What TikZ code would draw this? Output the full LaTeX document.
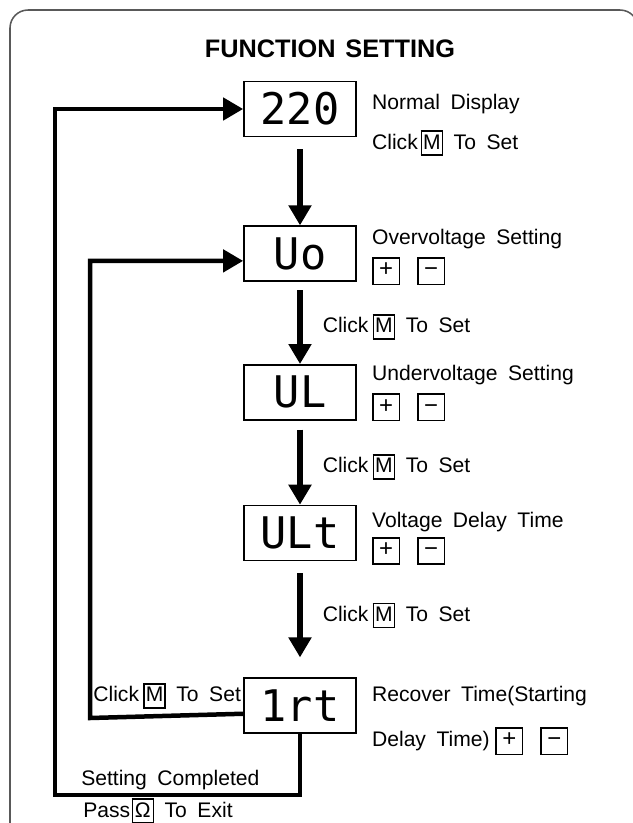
\documentclass[tikz,border=0pt]{standalone}
\usepackage{fontspec}
\setmainfont{Liberation Sans}[WordSpace=1.8]
\newfontfamily\segfont{DejaVu Sans Mono}
\usetikzlibrary{arrows.meta, positioning, calc}

\newcommand{\keycap}[2][0.36cm]{{\setlength{\fboxsep}{1.8pt}\setlength{\fboxrule}{1.1pt}\fbox{\makebox[#1]{\rule[-2pt]{0pt}{11pt}#2}}}}
\newcommand{\pmkeys}{\keycap[0.5cm]{\rule[-3pt]{0pt}{14pt}\fontsize{17}{17}\selectfont +}\hspace{0.42cm}\keycap[0.5cm]{\rule[-3pt]{0pt}{14pt}\fontsize{17}{17}\selectfont −}}

\tikzset{
  lcd/.style={draw, line width=1.2pt, minimum width=2.8cm, minimum height=1.375cm, inner sep=0pt, font=\segfont\fontsize{31}{31}\selectfont},
  lbl/.style={inner sep=0pt, font=\fontsize{15}{18}\selectfont},
  flow/.style={->, line width=4pt},
  back/.style={->, line width=3.2pt},
}

\begin{document}
\begin{tikzpicture}[node distance=2cm, >={Triangle[width=0.55cm,length=0.5cm]}]
\useasboundingbox (0,0) rectangle (15.825,-20.575);
\draw[line width=1.1pt, black!65, rounded corners=0.45cm] (0.25,-0.25) rectangle (15.95,-21.5);
\node[font=\bfseries\fontsize{18}{20}\selectfont, anchor=base] (title) at (8.25,-1.44) {FUNCTION\hspace{-2pt} SETTING};

\node[lcd] (disp) at (7.5,-2.725) {220};
\node[lcd, below=2.2cm of disp] (uo) {Uo};
\node[lcd, below=2.05cm of uo] (ul) {UL};
\node[lcd, below=2.1cm of ul] (ult) {ULt};
\node[lcd, below=2.9cm of ult] (irt) {1rt};

\node[lbl, anchor=base west] (normal) at ($(disp.east)+(0.375,0)$) {Normal Display};
\node[lbl, anchor=base west] (clk1) at ($(disp.east)+(0.375,-1.0)$) {Click\hspace{2pt}\keycap{M} To Set};
\node[lbl, anchor=base west] (over) at ($(uo.east)+(0.375,0.24)$) {Overvoltage Setting};
\node[lbl, anchor=west] (uokeys) at ($(uo.east)+(0.375,-0.44)$) {\pmkeys};
\node[lbl, anchor=base west] (under) at ($(ul.east)+(0.375,0.3)$) {Undervoltage Setting};
\node[lbl, anchor=west] (ulkeys) at ($(ul.east)+(0.375,-0.375)$) {\pmkeys};
\node[lbl, anchor=base west] (delay) at ($(ult.east)+(0.375,0.15)$) {Voltage Delay Time};
\node[lbl, anchor=west] (ultkeys) at ($(ult.east)+(0.375,-0.45)$) {\pmkeys};
\node[lbl, anchor=base west] (recover) at ($(irt.east)+(0.375,0.1)$) {Recover Time(Starting};
\node[lbl, anchor=base west] (recover2) at ($(irt.east)+(0.375,-1.025)$) {Delay Time)\hspace{4pt}\pmkeys};

\draw[flow] ([yshift=-0.3cm]disp.south) -- (uo.north);
\draw[flow] ([yshift=-0.2cm]uo.south) -- (ul.north) node[lbl, midway, right=0.5cm] (clk2) {Click\hspace{3pt}\keycap{M} To Set};
\draw[flow] ([yshift=-0.22cm]ul.south) -- (ult.north) node[lbl, midway, right=0.5cm] (clk3) {Click\hspace{3pt}\keycap{M} To Set};
\draw[flow] ([yshift=-0.3cm]ult.south) -- ([yshift=0.5cm]irt.north) node[lbl, midway, right=0.5cm] (clk4) {Click\hspace{3pt}\keycap{M} To Set};

\coordinate (outer) at (1.375,-19.875);
\coordinate (inner) at (2.25,-17.95);
\draw[back] (irt.south) |- (outer) |- (disp.west);
\draw[back] ([yshift=-0.2cm]irt.west) -- (inner) |- ([yshift=-0.18cm]uo.west);

\node[lbl, anchor=base east] (clkback) at ($(irt.west)+(-0.05,0.1)$) {Click\hspace{3pt}\keycap{M} To Set};
\node[lbl, anchor=base west] (done) at ($(outer)+(0.65,0.25)$) {Setting Completed};
\node[lbl, anchor=base west] (pass) at ($(outer)+(0.7,-0.55)$) {Pass\hspace{1pt}\keycap{Ω} To Exit};
\end{tikzpicture}
\end{document}
